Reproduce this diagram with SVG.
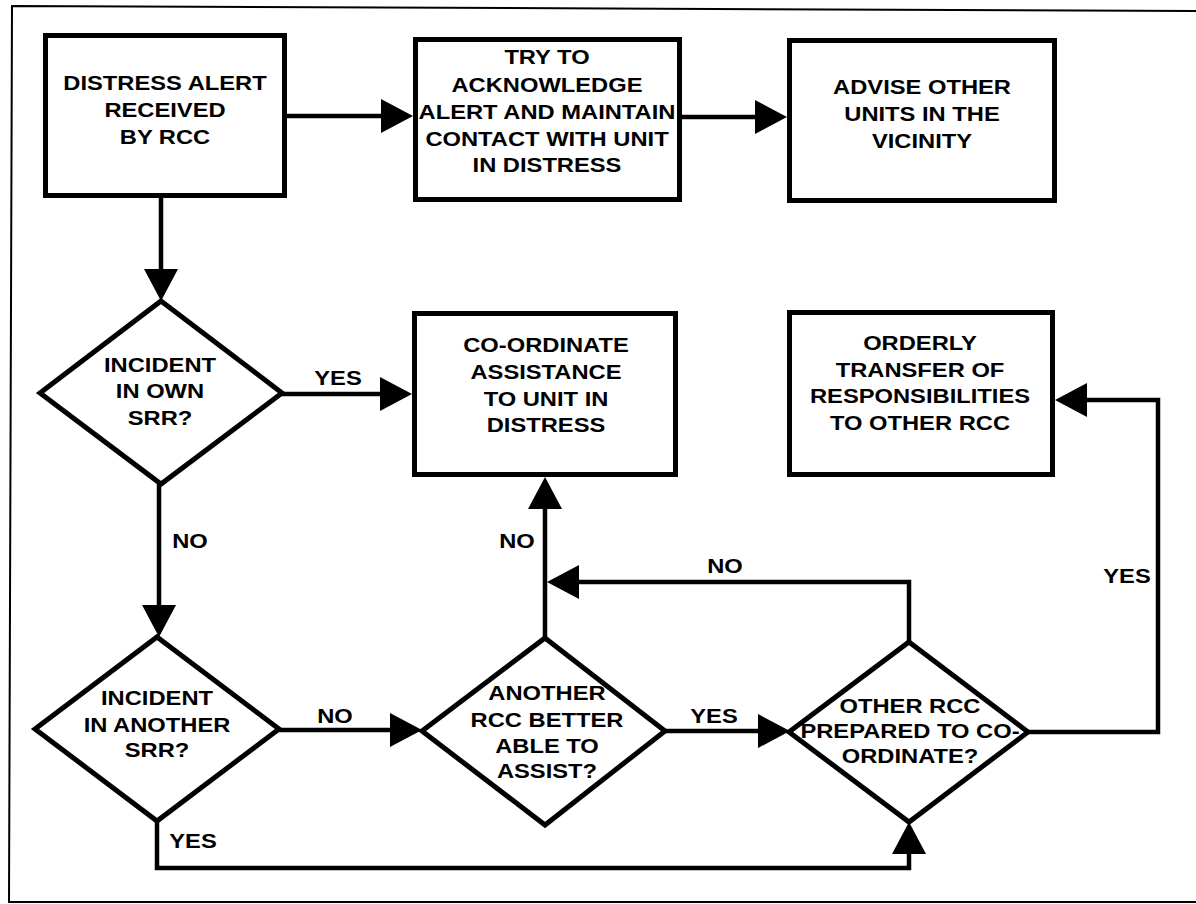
<svg xmlns="http://www.w3.org/2000/svg" width="1196" height="904" viewBox="0 0 1196 904">
<style>
.frame{fill:none;stroke:#000;stroke-width:2}
.box{fill:#fff;stroke:#000;stroke-width:5}
.dia{fill:#fff;stroke:#000;stroke-width:5;stroke-linejoin:miter}
.con{fill:none;stroke:#000;stroke-width:4.5;stroke-linejoin:miter}
text{font-family:"Liberation Sans",Arial,Helvetica,sans-serif;font-weight:bold;font-size:21px;text-anchor:middle;fill:#000}
</style>
<defs>
<marker id="ah" markerUnits="userSpaceOnUse" markerWidth="32" markerHeight="34" viewBox="0 0 32 34" refX="24" refY="17" orient="auto">
<path d="M0,0 L32,17 L0,34 z" fill="#000"/>
</marker>
</defs>
<rect width="1196" height="904" fill="#fff"/>
<path class="frame" d="M1200,11 L12,6 L9,902 L1200,902"/>

<g id="connectors">
<path class="con" d="M285,116 H405" marker-end="url(#ah)"/>
<path class="con" d="M682,117 H779" marker-end="url(#ah)"/>
<path class="con" d="M161,197 V293" marker-end="url(#ah)"/>
<path class="con" d="M282,394 H404" marker-end="url(#ah)"/>
<path class="con" d="M159,484 V629" marker-end="url(#ah)"/>
<path class="con" d="M279,730 H414" marker-end="url(#ah)"/>
<path class="con" d="M545,638 V485" marker-end="url(#ah)"/>
<path class="con" d="M665,731 H782" marker-end="url(#ah)"/>
<path class="con" d="M909,642 V582 H555" marker-end="url(#ah)"/>
<path class="con" d="M1028,732 H1158 V400 H1063" marker-end="url(#ah)"/>
<path class="con" d="M157,821 V868 H909 V830" marker-end="url(#ah)"/>
<g transform="translate(338 0) scale(1.13 1)"><text y="385">YES</text></g>
<g transform="translate(190 0) scale(1.13 1)"><text y="548">NO</text></g>
<g transform="translate(335 0) scale(1.13 1)"><text y="723">NO</text></g>
<g transform="translate(714 0) scale(1.13 1)"><text y="723">YES</text></g>
<g transform="translate(517 0) scale(1.13 1)"><text y="548">NO</text></g>
<g transform="translate(725 0) scale(1.13 1)"><text y="573">NO</text></g>
<g transform="translate(1127 0) scale(1.13 1)"><text y="583">YES</text></g>
<g transform="translate(193 0) scale(1.13 1)"><text y="848">YES</text></g>
</g>

<g id="n-alert">
<rect class="box" x="45.5" y="35.5" width="239" height="160"/>
<g transform="translate(165 0) scale(1.13 1)">
<text y="90">DISTRESS ALERT</text><text y="117">RECEIVED</text><text y="144">BY RCC</text>
</g>
</g>

<g id="n-ack">
<rect class="box" x="415.5" y="39.5" width="264" height="160"/>
<g transform="translate(547 0) scale(1.13 1)">
<text y="64">TRY TO</text><text y="92">ACKNOWLEDGE</text><text y="119">ALERT AND MAINTAIN</text><text y="146">CONTACT WITH UNIT</text><text y="172">IN DISTRESS</text>
</g>
</g>

<g id="n-advise">
<rect class="box" x="789.5" y="40.5" width="265" height="160"/>
<g transform="translate(922 0) scale(1.13 1)">
<text y="94">ADVISE OTHER</text><text y="121">UNITS IN THE</text><text y="148">VICINITY</text>
</g>
</g>

<g id="n-coord">
<rect class="box" x="414.5" y="313.5" width="261" height="161"/>
<g transform="translate(546 0) scale(1.13 1)">
<text y="352">CO-ORDINATE</text><text y="379">ASSISTANCE</text><text y="406">TO UNIT IN</text><text y="432">DISTRESS</text>
</g>
</g>

<g id="n-transfer">
<rect class="box" x="789.5" y="312.5" width="263" height="162"/>
<g transform="translate(920 0) scale(1.13 1)">
<text y="350">ORDERLY</text><text y="377">TRANSFER OF</text><text y="403">RESPONSIBILITIES</text><text y="430">TO OTHER RCC</text>
</g>
</g>

<g id="d-own">
<polygon class="dia" points="161,301 282,393 161,484 40,393"/>
<g transform="translate(160 0) scale(1.13 1)">
<text y="372">INCIDENT</text><text y="398">IN OWN</text><text y="425">SRR?</text>
</g>
</g>

<g id="d-another">
<polygon class="dia" points="157,637 279,729 157,821 35,729"/>
<g transform="translate(157 0) scale(1.13 1)">
<text y="705">INCIDENT</text><text y="732">IN ANOTHER</text><text y="757">SRR?</text>
</g>
</g>

<g id="d-better">
<polygon class="dia" points="545,638 665,731 545,825 422,731"/>
<g transform="translate(547 0) scale(1.13 1)">
<text y="700">ANOTHER</text><text y="727">RCC BETTER</text><text y="753">ABLE TO</text><text y="778">ASSIST?</text>
</g>
</g>

<g id="d-prepared">
<polygon class="dia" points="909,642 1028,732 909,822 789,732"/>
<g transform="translate(910 0) scale(1.13 1)">
<text y="713">OTHER RCC</text><text y="738">PREPARED TO CO-</text><text y="763">ORDINATE?</text>
</g>
</g>
</svg>
